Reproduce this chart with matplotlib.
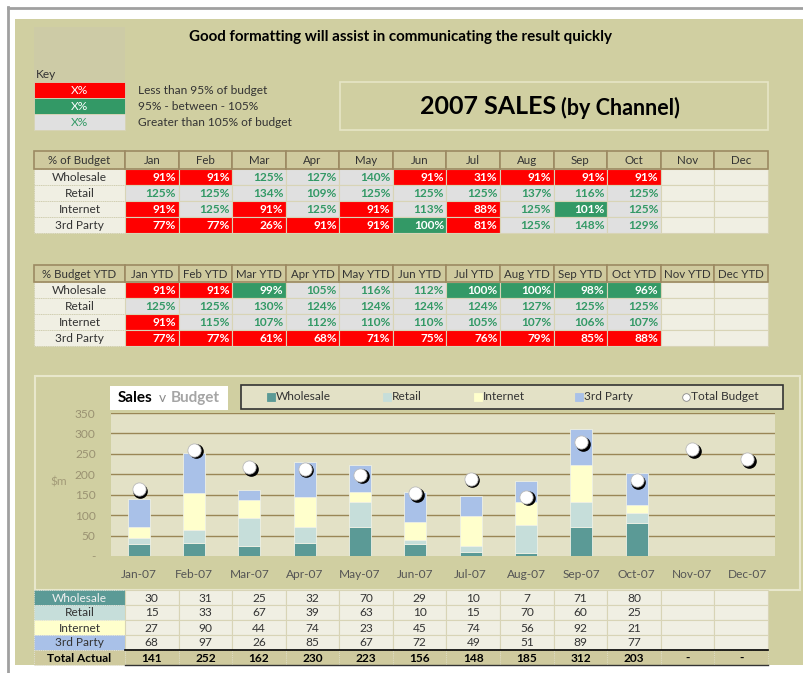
import matplotlib
matplotlib.use("Agg")
import matplotlib.pyplot as plt
from matplotlib.patches import Rectangle
import matplotlib.transforms as mtransforms

plt.rcParams['font.family'] = ['Lato', 'DejaVu Sans']

# ---------------- data ----------------
months = ["Jan", "Feb", "Mar", "Apr", "May", "Jun", "Jul", "Aug", "Sep", "Oct", "Nov", "Dec"]
month_labels = ["Jan-07", "Feb-07", "Mar-07", "Apr-07", "May-07", "Jun-07",
                "Jul-07", "Aug-07", "Sep-07", "Oct-07", "Nov-07", "Dec-07"]
channels = ["Wholesale", "Retail", "Internet", "3rd Party"]

pct_budget = {
    "Wholesale": [91, 91, 125, 127, 140, 91, 31, 91, 91, 91],
    "Retail":    [125, 125, 134, 109, 125, 125, 125, 137, 116, 125],
    "Internet":  [91, 125, 91, 125, 91, 113, 88, 125, 101, 125],
    "3rd Party": [77, 77, 26, 91, 91, 100, 81, 125, 148, 129],
}
pct_ytd = {
    "Wholesale": [91, 91, 99, 105, 116, 112, 100, 100, 98, 96],
    "Retail":    [125, 125, 130, 124, 124, 124, 124, 127, 125, 125],
    "Internet":  [91, 115, 107, 112, 110, 110, 105, 107, 106, 107],
    "3rd Party": [77, 77, 61, 68, 71, 75, 76, 79, 85, 88],
}
wholesale = [30, 31, 25, 32, 70, 29, 10, 7, 71, 80]
retail = [15, 33, 67, 39, 63, 10, 15, 70, 60, 25]
internet = [27, 90, 44, 74, 23, 45, 74, 56, 92, 21]
third_party = [68, 97, 26, 85, 67, 72, 49, 51, 89, 77]
total_actual = [141, 252, 162, 230, 223, 156, 148, 185, 312, 203]
total_budget = [164, 260, 218, 214, 199, 154, 189, 145, 279, 185, 261, 237]
y_ticks = [0, 50, 100, 150, 200, 250, 300, 350]
y_tick_labels = ["-", "50", "100", "150", "200", "250", "300", "350"]

# ---------------- styles ----------------
KHAKI = "#D0CFA1"
HEADER = "#CFCA9E"
HEADER_EDGE = "#9C8A62"
CREAM = "#F0EFE3"
RED = "#FF0000"
GREEN = "#339966"
GRAY = "#E0E0E0"
C_WH, C_RE, C_IN, C_3P = "#5B9A96", "#C6DEDA", "#FFFFCC", "#A9C1E8"
PLOT_BG = "#E3E1C6"
GRID = "#9A8656"
TXT = "#333333"
FS = 8.6  # table text size

fig = plt.figure(figsize=(8.04, 6.73), dpi=100)
fig.patch.set_facecolor("white")
ax0 = fig.add_axes([0, 0, 1, 1])
ax0.set_xlim(0, 804)
ax0.set_ylim(673, 0)
ax0.axis("off")


def rect(x0, y0, x1, y1, fc, ec="none", lw=0.0, ls="-", z=1):
    ax0.add_patch(Rectangle((x0, y0), x1 - x0, y1 - y0, facecolor=fc,
                            edgecolor=ec, linewidth=lw, linestyle=ls, zorder=z))


# outer frame
ax0.plot([8, 804], [7.5, 7.5], color="#A0A0A0", lw=2, zorder=2)
ax0.plot([8, 8], [7, 673], color="#A0A0A0", lw=2, zorder=2)
rect(15, 19, 804, 665, KHAKI)

# top-left block + key
rect(34, 27, 125, 82, "#CDCBA6")
ax0.text(36, 75, "Key", fontsize=FS, color=TXT, va="center", ha="left")
key_cells = [(RED, "white", "Less than 95% of budget"),
             (GREEN, "white", "95% - between - 105%"),
             (GRAY, GREEN, "Greater than 105% of budget")]
for i, (fc, tc, desc) in enumerate(key_cells):
    y0 = 82 + i * 16
    rect(34, y0, 125, y0 + 15.5, fc, ec="#D6D3B4", lw=0.6, z=2)
    ax0.text(79.5, y0 + 8, "X%", fontsize=FS, color=tc, ha="center", va="center", zorder=3)
    ax0.text(138, y0 + 8, desc, fontsize=FS, color=TXT, ha="left", va="center", zorder=3)

ax0.text(401, 37, "Good formatting will assist in communicating the result quickly",
         fontsize=10.9, fontweight="bold", color="black", ha="center", va="center")

# sales title box
rect(340, 82, 768, 130, "none", ec="#E6E5C6", lw=1.2, z=2)
ax0.text(556, 106, "2007 SALES", fontsize=18, fontweight="bold", color="black",
         ha="right", va="center")
ax0.text(561, 107.5, "(by Channel)", fontsize=15.5, fontweight="bold", color="black",
         ha="left", va="center")

# ---------------- percentage tables ----------------
LX0, LX1 = 34, 125
COLW = (768 - 125) / 12.0


def col_x(j):
    return LX1 + j * COLW


def cell_style(v):
    if v < 95:
        return RED, "white"
    if v < 105:
        return GREEN, "white"
    return GRAY, GREEN


def pct_table(y_head, head_h, title, suffix, data):
    # header
    rect(LX0, y_head, LX1, y_head + head_h, HEADER, ec=HEADER_EDGE, lw=1.2, z=3)
    ax0.text((LX0 + LX1) / 2, y_head + head_h / 2 + 0.5, title, fontsize=FS - 0.3, color=TXT,
             ha="center", va="center", zorder=4)
    for j, m in enumerate(months):
        rect(col_x(j), y_head, col_x(j + 1), y_head + head_h, HEADER, ec=HEADER_EDGE, lw=1.2, z=3)
        ax0.text(col_x(j) + COLW / 2, y_head + head_h / 2 + 0.5, m + suffix, fontsize=FS - 0.3,
                 color=TXT, ha="center", va="center", zorder=4)
    y = y_head + head_h
    rh = 16
    for i, ch in enumerate(channels):
        y0 = y + i * rh
        rect(LX0, y0, LX1, y0 + rh, CREAM, ec="#C9C6A8", lw=0.6, ls=":", z=2)
        ax0.text((LX0 + LX1) / 2, y0 + rh / 2 + 0.5, ch, fontsize=FS, color=TXT,
                 ha="center", va="center", zorder=4)
        vals = data[ch]
        for j in range(12):
            if j < len(vals):
                fc, tc = cell_style(vals[j])
                rect(col_x(j), y0, col_x(j + 1), y0 + rh, fc, ec="#D8D4B6", lw=0.8, z=2)
                ax0.text(col_x(j + 1) - 2.5, y0 + rh / 2 + 0.5, f"{vals[j]}%", fontsize=FS,
                         fontweight="bold", color=tc, ha="right", va="center", zorder=4)
            else:
                rect(col_x(j), y0, col_x(j + 1), y0 + rh, CREAM, ec="#D8D4B6", lw=0.8, z=2)


pct_table(151, 18, "% of Budget", "", pct_budget)
pct_table(265, 17, "% Budget YTD", " YTD", pct_ytd)

# ---------------- chart panel ----------------
rect(35, 376, 800, 590, KHAKI, ec="#E8E7CC", lw=1.5, z=1)

L, R, T, B = 111, 775, 413, 556
ax = fig.add_axes([L / 804, (673 - B) / 673, (R - L) / 804, (B - T) / 673])
ax.set_facecolor(PLOT_BG)
n = len(months)
xs = list(range(n))
nd = len(wholesale)
bw = 0.4
bottoms = [0] * nd
series = [(wholesale, C_WH), (retail, C_RE), (internet, C_IN), (third_party, C_3P)]
for vals, col in series:
    ax.bar(xs[:nd], vals, bw, bottom=bottoms, color=col, edgecolor="#EEF0E4",
           linewidth=0.6, zorder=3)
    bottoms = [b + v for b, v in zip(bottoms, vals)]

shadow = mtransforms.offset_copy(ax.transData, fig=fig, x=1.2, y=-1.2, units="points")
ax.plot(xs, total_budget, linestyle="none", marker="o", markersize=9.5,
        markerfacecolor="black", markeredgecolor="black", transform=shadow, zorder=4)
ax.plot(xs, total_budget, linestyle="none", marker="o", markersize=9.5,
        markerfacecolor="white", markeredgecolor="#BBBBBB", markeredgewidth=0.6, zorder=5)

ax.set_xlim(-0.5, n - 0.5)
ax.set_ylim(0, 350)
ax.set_yticks(y_ticks)
ax.set_yticklabels(y_tick_labels, fontsize=FS, color="#9A9272")
ax.set_xticks(xs)
ax.set_xticklabels(month_labels, fontsize=FS, color="#555555")
ax.tick_params(axis="both", length=0)
ax.tick_params(axis="y", pad=11)
ax.tick_params(axis="x", pad=9)
ax.yaxis.grid(True, color=GRID, linewidth=1.0, zorder=1)
ax.set_axisbelow(True)
ax.get_ygridlines()[0].set_visible(False)
for s in ax.spines.values():
    s.set_visible(False)

ax0.text(50, 482, "$m", fontsize=FS, color="#A39B78", ha="left", va="center")

# chart title box
rect(110, 386, 228, 410, "white", z=2)
ax0.text(118, 398, "Sales", fontsize=11, fontweight="bold", color="black", ha="left",
         va="center", zorder=3)
ax0.text(159, 398.5, "v", fontsize=10, color="#8A8A8A", ha="left", va="center", zorder=3)
ax0.text(171, 398, "Budget", fontsize=11, fontweight="bold", color="#A5A5A5", ha="left",
         va="center", zorder=3)

# legend
rect(241, 385, 783, 409, PLOT_BG, ec="#333333", lw=1.2, z=2)
leg_items = [(271, "s", C_WH, "Wholesale"), (387, "s", C_RE, "Retail"),
             (478, "s", C_IN, "Internet"), (579, "s", C_3P, "3rd Party"),
             (686, "o", "white", "Total Budget")]
for lx, mk, col, lab in leg_items:
    ax0.plot([lx], [397], marker=mk, markersize=5.5, color=col,
             markeredgecolor="#888888" if mk == "o" else col, markeredgewidth=0.6,
             linestyle="none", zorder=3)
    ax0.text(lx + 5, 397, lab, fontsize=FS, color=TXT, ha="left", va="center", zorder=3)

# ---------------- bottom data table ----------------
row_specs = [("Wholesale", wholesale, C_WH, "#F0F0F0"),
             ("Retail", retail, C_RE, TXT),
             ("Internet", internet, C_IN, TXT),
             ("3rd Party", third_party, C_3P, TXT)]
ty = 590
rh = 15
for i, (lab, vals, fc, tc) in enumerate(row_specs):
    y0 = ty + i * rh
    rect(LX0, y0, LX1, y0 + rh, fc, ec="#E8E8E8", lw=0.6, ls=":", z=2)
    ax0.text((LX0 + LX1) / 2, y0 + rh / 2 + 0.5, lab, fontsize=FS, color=tc,
             ha="center", va="center", zorder=4)
    for j in range(12):
        rect(col_x(j), y0, col_x(j + 1), y0 + rh, CREAM, ec="#D8D4B6", lw=0.8, z=2)
        if j < len(vals):
            ax0.text(col_x(j) + COLW / 2, y0 + rh / 2 + 0.5, str(vals[j]), fontsize=FS,
                     color=TXT, ha="center", va="center", zorder=4)
y0 = ty + 4 * rh
rect(LX0, y0, LX1, y0 + rh, HEADER, ec="#E8E8E8", lw=0.6, ls=":", z=2)
ax0.text((LX0 + LX1) / 2, y0 + rh / 2 + 0.5, "Total Actual", fontsize=FS, fontweight="bold",
         color="black", ha="center", va="center", zorder=4)
for j in range(12):
    rect(col_x(j), y0, col_x(j + 1), y0 + rh, HEADER, ec="#E4E2CC", lw=0.6, ls=":", z=2)
    txt = str(total_actual[j]) if j < len(total_actual) else "-"
    ax0.text(col_x(j) + COLW / 2, y0 + rh / 2 + 0.5, txt, fontsize=FS, fontweight="bold",
             color="black", ha="center", va="center", zorder=4)
ax0.plot([LX1, 768], [y0, y0], color="black", lw=1.2, zorder=5)
ax0.plot([LX1, 768], [y0 + rh, y0 + rh], color="#333333", lw=1.0, zorder=5)

fig.savefig("out.png", dpi=100, facecolor="white")
